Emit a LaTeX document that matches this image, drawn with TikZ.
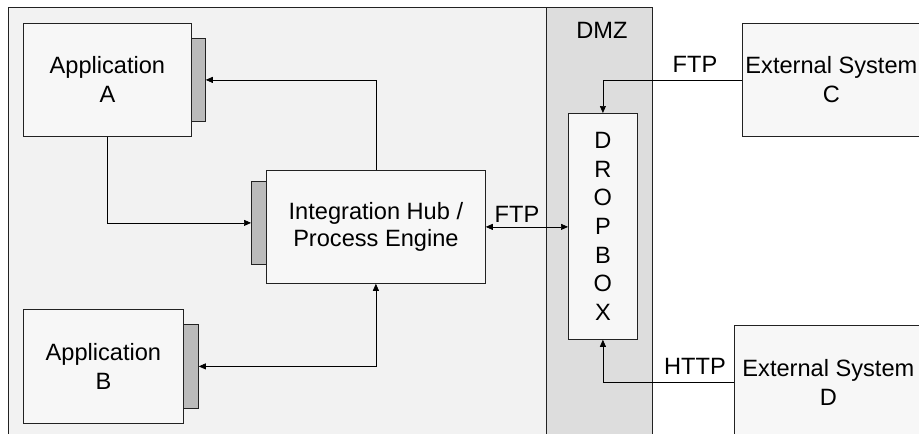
\documentclass[tikz,border=0pt]{standalone}
\usepackage{fontspec}
\setmainfont{Liberation Sans}
\usetikzlibrary{arrows.meta}
\definecolor{zonebg}{HTML}{F2F2F2}
\definecolor{dmzbg}{HTML}{DDDDDD}
\definecolor{boxbg}{HTML}{F7F7F7}
\definecolor{tabbg}{HTML}{BBBBBB}
\definecolor{edgec}{HTML}{222222}
\begin{document}
\begin{tikzpicture}[x=1pt,y=-1pt,
  font=\fontsize{23.6}{29}\selectfont,
  zone/.style={draw=edgec, line width=0.8pt, rectangle, inner sep=0pt, anchor=north west},
  box/.style={draw=edgec, fill=boxbg, line width=0.8pt, rectangle, inner sep=0.5pt, align=center, anchor=north west},
  tabbox/.style={draw=edgec, fill=tabbg, line width=0.8pt, rectangle, inner sep=0pt, anchor=north west},
  conn/.style={draw=black, line width=0.7pt},
  tip/.style={-{Triangle[length=7pt,width=6pt]}},
  tipboth/.style={{Triangle[length=7pt,width=6pt]}-{Triangle[length=7pt,width=6pt]}},
  lbl/.style={inner sep=0pt}
]
\useasboundingbox (0,0) rectangle (919,434);
\clip (0,0) rectangle (919,434);
\fill[white] (0,0) rectangle (919,434);

% zones
\node[zone, fill=zonebg, minimum width=538pt, minimum height=440pt] (inner) at (8,7) {};
\node[zone, fill=dmzbg, minimum width=106pt, minimum height=440pt] (dmz) at (546,7) {};
\node[lbl] (dmzlbl) at (602,30.5) {DMZ};

% boxes
\node[box, minimum width=168pt, minimum height=113pt] (appA) at (23,23) {Application\\A};
\node[tabbox, minimum width=14pt, minimum height=83pt] (tabA) at (191,38) {};

\node[box, font=\fontsize{23.6}{27}\selectfont, minimum width=219pt, minimum height=113pt] (hub) at (266,170) {Integration Hub /\\Process Engine};
\node[tabbox, minimum width=15pt, minimum height=83pt] (tabH) at (251,181) {};

\node[box, minimum width=160pt, minimum height=114pt] (appB) at (23,309) {Application\\B};
\node[tabbox, minimum width=15pt, minimum height=84pt] (tabB) at (183,324) {};

\node[box, font=\fontsize{23.6}{28.7}\selectfont, minimum width=69pt, minimum height=226pt] (drop) at (568,113) {D\\R\\O\\P\\B\\O\\X};

\node[box, minimum width=178pt, minimum height=113pt] (extC) at (742,23) {External System\\C};
\node[box, minimum width=188pt, minimum height=114pt] (extD) at (734,325) {External System\\D};

% connectors
\draw[conn,tip] (hub.north) |- (tabA.east);
\draw[conn,tip] (appA.south) |- (tabH.west);
\draw[conn,tipboth] (hub.east) -- (hub.east -| drop.west);
\draw[conn,tip] (extC.west) -| (drop.north);
\draw[conn,tip] (extD.west) -| (drop.south);
\draw[conn,tipboth] (tabB.east) -| (hub.south);

% labels
\node[lbl] (ftp1) at (517,214) {FTP};
\node[lbl] (ftp2) at (695,64.5) {FTP};
\node[lbl] (http) at (695,366) {HTTP};
\end{tikzpicture}
\end{document}
